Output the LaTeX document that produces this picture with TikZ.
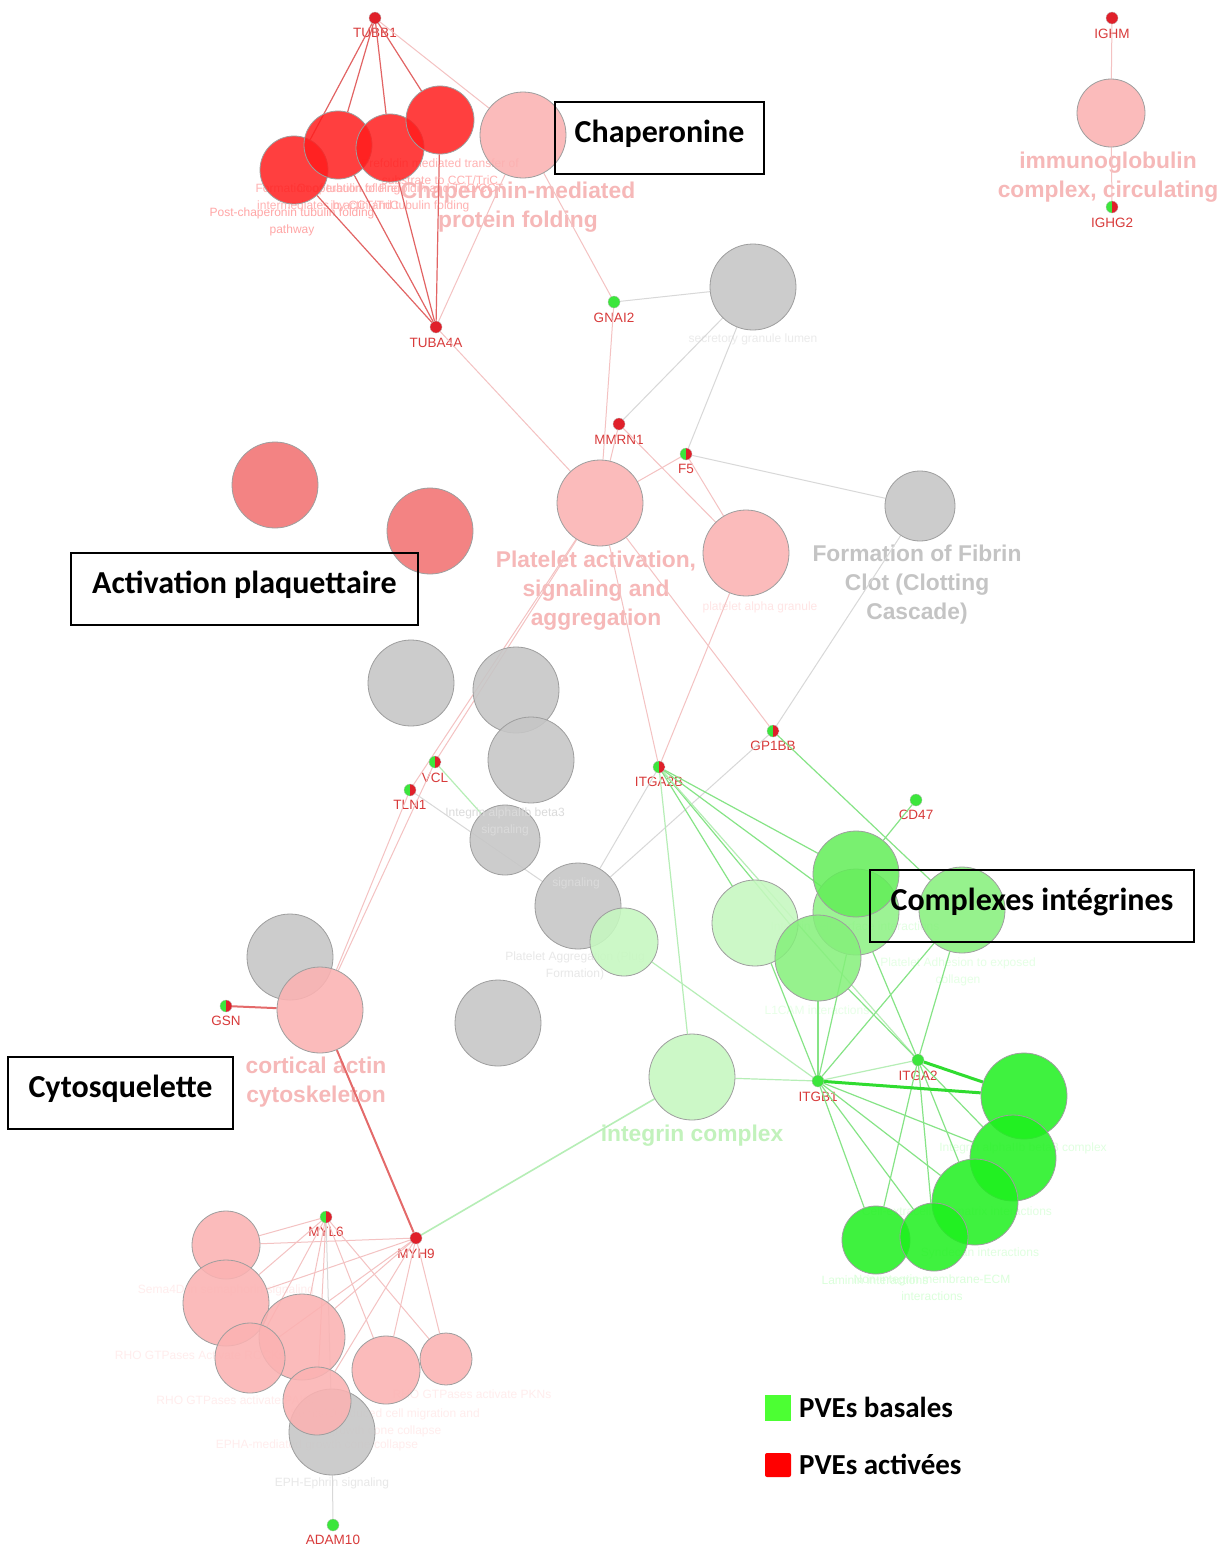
\documentclass[tikz,border=0pt]{standalone}
\usepackage{fontspec}
\setmainfont{Liberation Sans}
\newfontfamily\calfont{Carlito}
\pgfdeclarelayer{bgw}
\pgfdeclarelayer{lab}
\pgfdeclarelayer{edg}
\pgfdeclarelayer{top}
\pgfsetlayers{bgw,lab,edg,main,top}
\definecolor{cRed}{HTML}{FF1E1E}
\definecolor{cSalmon}{HTML}{F27272}
\definecolor{cPink}{HTML}{FBB2B2}
\definecolor{cGray}{HTML}{C6C6C6}
\definecolor{cPaleG}{HTML}{C6F8C0}
\definecolor{cMidG}{HTML}{62EE58}
\definecolor{cMidG2}{HTML}{84F07A}
\definecolor{cBrightG}{HTML}{1EF01E}
\definecolor{cDotR}{HTML}{E0202A}
\definecolor{cDotG}{HTML}{3CE63C}
\definecolor{cGeneTxt}{HTML}{D83A3A}
\definecolor{cPinkTxt}{HTML}{F6B8B8}
\definecolor{cGrayTxt}{HTML}{C4C4C4}
\definecolor{cGreenTxt}{HTML}{C2F2BC}
\definecolor{eRed}{HTML}{E26464}
\definecolor{ePink}{HTML}{F4C2C2}
\definecolor{eGray}{HTML}{D8D8D8}
\definecolor{eGreen}{HTML}{86E486}
\definecolor{eLGreen}{HTML}{B6EEB6}
\definecolor{eThickG}{HTML}{30DC30}
\definecolor{eThickR}{HTML}{E46A6A}
\definecolor{legG}{HTML}{4CFF33}
\definecolor{legR}{HTML}{FF0000}
\tikzset{
  term/.style={circle, inner sep=0pt, draw=black!38, line width=0.8pt, fill opacity=0.88},
  gdot/.style={circle, inner sep=0pt, minimum size=12pt, draw=black!25, line width=0.3pt},
  gred/.style={gdot, fill=cDotR},
  ggreen/.style={gdot, fill=cDotG},
  ghalf/.style={gdot, path picture={
      \fill[cDotG] (path picture bounding box.south west) rectangle (path picture bounding box.north);
      \fill[cDotR] (path picture bounding box.south) rectangle (path picture bounding box.north east);}},
  glab/.style={font=\fontsize{13.5}{13.5}\selectfont, text=cGeneTxt, inner sep=0pt},
  blab/.style={font=\fontsize{22.8}{29}\selectfont\bfseries, align=center, inner sep=0pt},
  slab/.style={font=\fontsize{12}{17}\selectfont, align=center, inner sep=0pt},
  redE/.style={draw=eRed, line width=1.2pt},
  pinkE/.style={draw=ePink, line width=1pt},
  grayE/.style={draw=eGray, line width=1pt},
  greenE/.style={draw=eGreen, line width=1.2pt},
  lgreenE/.style={draw=eLGreen, line width=1.2pt},
  thickG/.style={draw=eThickG, line width=3pt},
  thickR/.style={draw=eThickR, line width=2pt},
  annot/.style={draw=black, line width=1.6pt},
  atext/.style={font=\calfont\bfseries\fontsize{32}{32}\selectfont, inner sep=0pt},
  legtext/.style={font=\calfont\bfseries\fontsize{29}{29}\selectfont, inner sep=0pt, anchor=west},
}
\begin{document}
\begin{tikzpicture}[x=1pt,y=-1pt]
\begin{pgfonlayer}{bgw}
\fill[white] (0,0) rectangle (1226,1548);
\end{pgfonlayer}
\useasboundingbox (0,0) rectangle (1226,1548);

% ---------------- term circles ----------------
\node[term, minimum size=86, fill=cGray] (t-sgl) at (753,287) {};
\node[term, minimum size=70, fill=cGray] (t-fib) at (920,506) {};
\node[term, minimum size=86, fill=cGray] (t-gr1) at (411,683) {};
\node[term, minimum size=86, fill=cGray] (t-gr2) at (516,690) {};
\node[term, minimum size=86, fill=cGray] (t-gr3) at (531,760) {};
\node[term, minimum size=70, fill=cGray] (t-gr4) at (505,840) {};
\node[term, minimum size=86, fill=cGray] (t-gr5) at (578,906) {};
\node[term, minimum size=86, fill=cGray] (t-gr6) at (290,957) {};
\node[term, minimum size=86, fill=cGray] (t-gr7) at (498,1023) {};
\node[term, minimum size=86, fill=cGray] (t-eph) at (332,1432) {};
\node[term, minimum size=68, fill=cRed, fill opacity=0.85] (t-ch1) at (294,170) {};
\node[term, minimum size=68, fill=cRed, fill opacity=0.85] (t-ch2) at (338,145) {};
\node[term, minimum size=68, fill=cRed, fill opacity=0.85] (t-ch3) at (390,148) {};
\node[term, minimum size=68, fill=cRed, fill opacity=0.85] (t-ch4) at (440,120) {};
\node[term, minimum size=86, fill=cPink] (t-chap) at (523,135) {};
\node[term, minimum size=68, fill=cPink] (t-igc) at (1111,113) {};
\node[term, minimum size=86, fill=cSalmon] (t-sal1) at (275,485) {};
\node[term, minimum size=86, fill=cSalmon] (t-sal2) at (430,531) {};
\node[term, minimum size=86, fill=cPink] (t-pa) at (600,503) {};
\node[term, minimum size=86, fill=cPink] (t-alpha) at (746,553) {};
\node[term, minimum size=86, fill=cPink] (t-cort) at (320,1010) {};
\node[term, minimum size=68, fill=cPaleG] (t-pag) at (624,942) {};
\node[term, minimum size=86, fill=cPaleG] (t-lg1) at (755,923) {};
\node[term, minimum size=86, fill=cPaleG] (t-intc) at (692,1077) {};
\node[term, minimum size=86, fill=cMidG2, fill opacity=0.8] (t-mg1) at (856,912) {};
\node[term, minimum size=86, fill=cMidG, fill opacity=0.85] (t-mg2) at (856,874) {};
\node[term, minimum size=86, fill=cMidG2, fill opacity=0.85] (t-mg3) at (818,958) {};
\node[term, minimum size=86, fill=cMidG2, fill opacity=0.85] (t-mg4) at (962,910) {};
\node[term, minimum size=86, fill=cBrightG, fill opacity=0.85] (t-bg1) at (1024,1096) {};
\node[term, minimum size=86, fill=cBrightG, fill opacity=0.85] (t-bg2) at (1013,1158) {};
\node[term, minimum size=86, fill=cBrightG, fill opacity=0.85] (t-bg3) at (975,1202) {};
\node[term, minimum size=68, fill=cBrightG, fill opacity=0.85] (t-bg4) at (876,1240) {};
\node[term, minimum size=68, fill=cBrightG, fill opacity=0.85] (t-bg5) at (934,1237) {};
\node[term, minimum size=68, fill=cPink] (t-p1) at (226,1245) {};
\node[term, minimum size=86, fill=cPink] (t-p2) at (226,1303) {};
\node[term, minimum size=86, fill=cPink] (t-p3) at (302,1337) {};
\node[term, minimum size=70, fill=cPink] (t-p4) at (250,1358) {};
\node[term, minimum size=68, fill=cPink] (t-p5) at (386,1370) {};
\node[term, minimum size=52, fill=cPink] (t-p6) at (446,1359) {};
\node[term, minimum size=68, fill=cPink] (t-p7) at (317,1401) {};

% ---------------- gene dots ----------------
\node[gred] (g-tubb1) at (375,18) {};
\node[gred] (g-tuba4a) at (436,327) {};
\node[ggreen] (g-gnai2) at (614,302) {};
\node[gred] (g-mmrn1) at (619,424) {};
\node[ghalf] (g-f5) at (686,454) {};
\node[gred] (g-ighm) at (1112,18) {};
\node[ghalf] (g-ighg2) at (1112,207) {};
\node[ghalf] (g-vcl) at (435,762) {};
\node[ghalf] (g-tln1) at (410,790) {};
\node[ghalf] (g-itga2b) at (659,767) {};
\node[ghalf] (g-gp1bb) at (773,731) {};
\node[ggreen] (g-cd47) at (916,800) {};
\node[ggreen] (g-itga2) at (918,1060) {};
\node[ggreen] (g-itgb1) at (818,1081) {};
\node[ghalf] (g-gsn) at (226,1006) {};
\node[ghalf] (g-myl6) at (326,1217) {};
\node[gred] (g-myh9) at (416,1238) {};
\node[ggreen] (g-adam10) at (333,1525) {};

% ---------------- labels (under edges) ----------------
\begin{pgfonlayer}{lab}
\node[glab] (l-tubb1) at (375,33) {TUBB1};
\node[glab] (l-tuba4a) at (436,343) {TUBA4A};
\node[glab] (l-gnai2) at (614,318) {GNAI2};
\node[glab] (l-mmrn1) at (619,440) {MMRN1};
\node[glab] (l-f5) at (686,469) {F5};
\node[glab] (l-ighm) at (1112,34) {IGHM};
\node[glab] (l-ighg2) at (1112,223) {IGHG2};
\node[glab] (l-vcl) at (435,778) {VCL};
\node[glab] (l-tln1) at (410,805) {TLN1};
\node[glab] (l-itga2b) at (659,782) {ITGA2B};
\node[glab] (l-gp1bb) at (773,746) {GP1BB};
\node[glab] (l-cd47) at (916,815) {CD47};
\node[glab] (l-itga2) at (918,1076) {ITGA2};
\node[glab] (l-itgb1) at (818,1097) {ITGB1};
\node[glab] (l-gsn) at (226,1021) {GSN};
\node[glab] (l-myl6) at (326,1232) {MYL6};
\node[glab] (l-myh9) at (416,1254) {MYH9};
\node[glab] (l-adam10) at (333,1540) {ADAM10};

\node[blab, text=cPinkTxt] (b-chap) at (518,207) {Chaperonin-mediated\\protein folding};
\node[blab, text=cPinkTxt] (b-igc) at (1108,177) {immunoglobulin\\complex, circulating};
\node[blab, text=cPinkTxt] (b-pa) at (596,591) {Platelet activation,\\signaling and\\aggregation};
\node[blab, text=cGrayTxt] (b-fib) at (917,585) {Formation of Fibrin\\Clot (Clotting\\Cascade)};
\node[blab, text=cPinkTxt] (b-cort) at (316,1082) {cortical actin\\cytoskeleton};
\node[blab, text=cGreenTxt] (b-intc) at (692,1136) {integrin complex};

\node[slab, text=red!35] (s-pcp) at (292,222) {Post-chaperonin tubulin folding\\pathway};
\node[slab, text=red!30] (s-ftf) at (328,198) {Formation of tubulin folding\\intermediates by CCT/TriC};
\node[slab, text=red!30] (s-coop) at (400,198) {Cooperation of Prefoldin and TriC/CCT\\in actin and tubulin folding};
\node[slab, text=red!30] (s-pref) at (440,172) {Prefoldin mediated transfer of\\substrate to CCT/TriC};
\node[slab, text=black!8] (s-sgl) at (753,339) {secretory granule lumen};
\node[slab, text=red!10] (s-alpha) at (760,607) {platelet alpha granule};
\node[slab, text=black!9] (s-pag) at (575,966) {Platelet Aggregation (Plug\\Formation)};
\node[slab, text=green!11] (s-ics) at (855,927) {Integrin cell surface interactions};
\node[slab, text=green!10] (s-pac) at (958,972) {Platelet Adhesion to exposed\\collagen};
\node[slab, text=green!9] (s-l1) at (817,1010) {L1CAM interactions};
\node[slab, text=green!12] (s-iab) at (1023,1148) {Integrin alphaIIb beta3 complex};
\node[slab, text=green!12] (s-cem) at (957,1211) {Cell-extracellular matrix interactions};
\node[slab, text=green!12] (s-syn) at (980,1253) {Syndecan interactions};
\node[slab, text=green!14] (s-lam) at (875,1280) {Laminin interactions};
\node[slab, text=green!14] (s-nie) at (932,1288) {Non-integrin membrane-ECM\\interactions};
\node[slab, text=red!7] (s-sema) at (226,1290) {Sema4D in semaphorin signaling};
\node[slab, text=red!7] (s-rock) at (200,1355) {RHO GTPases Activate ROCKs};
\node[slab, text=red!7] (s-pak) at (235,1400) {RHO GTPases activate PAKs};
\node[slab, text=red!7] (s-pkn) at (472,1394) {RHO GTPases activate PKNs};
\node[slab, text=red!7] (s-semm) at (385,1423) {Sema4D induced cell migration and\\growth cone collapse};
\node[slab, text=red!7] (s-epha) at (317,1445) {EPHA-mediated growth cone collapse};
\node[slab, text=black!9] (s-eph) at (332,1483) {EPH-Ephrin signaling};
\end{pgfonlayer}

% ---------------- edges ----------------
\begin{pgfonlayer}{edg}
\foreach \t in {t-ch1,t-ch2,t-ch3,t-ch4} {
  \draw[redE] (g-tubb1) -- (\t);
  \draw[redE] (g-tuba4a) -- (\t);
}
\draw[pinkE] (g-tubb1) -- (t-chap);
\draw[pinkE] (g-tuba4a) -- (t-chap);
\draw[pinkE] (t-chap) -- (g-gnai2);
\draw[pinkE] (g-tuba4a) -- (t-pa);
\draw[pinkE] (g-gnai2) -- (t-pa);
\draw[pinkE] (g-mmrn1) -- (t-pa);
\draw[pinkE] (g-mmrn1) -- (t-alpha);
\draw[pinkE] (g-f5) -- (t-pa);
\draw[pinkE] (g-f5) -- (t-alpha);
\draw[pinkE] (t-pa) -- (g-vcl);
\draw[pinkE] (t-pa) -- (g-tln1);
\draw[pinkE] (t-pa) -- (g-itga2b);
\draw[pinkE] (t-pa) -- (g-gp1bb);
\draw[pinkE] (t-alpha) -- (g-itga2b);
\draw[pinkE] (g-vcl) -- (t-cort);
\draw[pinkE] (g-tln1) -- (t-cort);
\draw[pinkE] (g-ighm) -- (t-igc);
\draw[pinkE] (g-ighg2) -- (t-igc);
\foreach \t in {t-p1,t-p2,t-p3,t-p4,t-p5,t-p6,t-p7} {
  \draw[pinkE] (g-myl6) -- (\t);
  \draw[pinkE] (g-myh9) -- (\t);
}
\draw[grayE] (g-gnai2) -- (t-sgl);
\draw[grayE] (g-mmrn1) -- (t-sgl);
\draw[grayE] (g-f5) -- (t-sgl);
\draw[grayE] (g-f5) -- (t-fib);
\draw[grayE] (t-fib) -- (g-gp1bb);
\draw[lgreenE] (g-vcl) -- (t-gr4);
\draw[grayE] (g-tln1) -- (t-gr5);
\draw[grayE] (g-itga2b) -- (t-gr5);
\draw[grayE] (g-gp1bb) -- (t-gr5);
\draw[grayE] (g-myl6) -- (t-eph);
\draw[grayE] (t-eph) -- (g-adam10);
\foreach \t in {t-lg1,t-mg1,t-mg2,t-mg3} {
  \draw[greenE] (g-itga2b) -- (\t);
}
\draw[lgreenE] (g-itga2b) -- (t-intc);
\draw[lgreenE] (g-itga2b) -- (g-itga2);
\draw[greenE] (g-gp1bb) -- (t-mg4);
\draw[greenE] (g-cd47) -- (t-mg2);
\foreach \t in {t-mg1,t-mg3,t-mg4,t-lg1,t-bg2,t-bg3,t-bg4,t-bg5} {
  \draw[greenE] (g-itgb1) -- (\t);
}
\foreach \t in {t-mg1,t-mg3,t-mg4,t-bg2,t-bg3,t-bg4,t-bg5} {
  \draw[greenE] (g-itga2) -- (\t);
}
\draw[lgreenE] (g-itgb1) -- (t-intc);
\draw[lgreenE] (g-itgb1) -- (g-itga2);
\draw[lgreenE] (g-itgb1) -- (t-pag);
\draw[thickG] (g-itgb1) -- (t-bg1);
\draw[thickG] (g-itga2) -- (t-bg1);
\draw[lgreenE, line width=1.6pt] (t-intc) -- (g-myh9);
\draw[thickR] (t-cort) -- (g-myh9);
\draw[thickR] (g-gsn) -- (t-cort);
\end{pgfonlayer}

% ---------------- top: labels over circles, annotations, legend ----------------
\begin{pgfonlayer}{top}
\node[slab, text=black!14] (s-ib3) at (505,822) {Integrin alphaIIb beta3\\signaling};
\node[slab, text=black!14] (s-sig) at (576,883) {signaling};

\draw[annot] (555,102) rectangle (764,174);
\node[atext] (a-chap) at (659.5,134) {Chaperonine};
\draw[annot] (71,553) rectangle (418,625);
\node[atext] (a-act) at (244.5,585) {Activation plaquettaire};
\draw[annot] (8,1057) rectangle (233,1129);
\node[atext] (a-cyto) at (120.5,1089) {Cytosquelette};
\draw[annot] (870,870) rectangle (1194,942);
\node[atext] (a-int) at (1032,902) {Complexes intégrines};

\fill[legG] (765,1395) rectangle (791,1421);
\fill[legR, rounded corners=2pt] (765,1453) rectangle (791,1477);
\node[legtext] (leg-b) at (799,1407) {PVEs basales};
\node[legtext] (leg-a) at (799,1464) {PVEs activées};
\end{pgfonlayer}
\end{tikzpicture}
\end{document}
